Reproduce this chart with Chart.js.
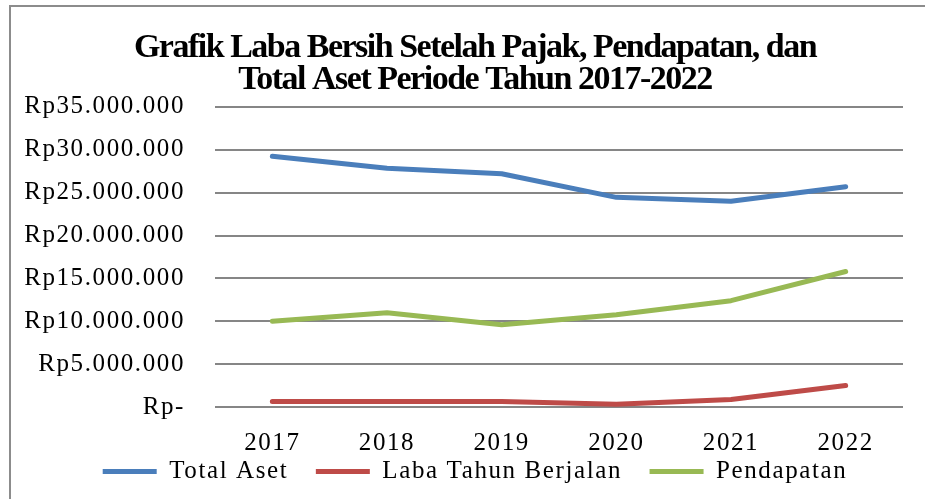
<!DOCTYPE html>
<html>
<head>
<meta charset="utf-8">
<script src="https://cdn.jsdelivr.net/npm/chart.js@4.4.0/dist/chart.umd.min.js"></script>
<style>
    html, body { margin: 0; padding: 0; background: #fff; overflow: hidden; }
    .frame { position: absolute; left: 9px; top: 5px; width: 1000px; height: 600px; border: 2px solid #8c8c8c; }
    #chart { position: absolute; left: 0; top: 0; }
</style>
</head>
<body>
<div class="frame"></div>
<canvas id="chart" width="925" height="499"></canvas>
<script>
const years = ['2017', '2018', '2019', '2020', '2021', '2022'];
const totalAset = [29250000, 27850000, 27200000, 24450000, 24000000, 25700000];
const labaTahunBerjalan = [630000, 630000, 630000, 330000, 870000, 2500000];
const pendapatan = [10000000, 11000000, 9600000, 10750000, 12400000, 15800000];
const titleLines = ['Grafik Laba Bersih Setelah Pajak, Pendapatan, dan', 'Total Aset Periode Tahun 2017-2022'];

// Rp35.000.000 style, zero shows as "Rp-"
const rupiah = (v) => v === 0 ? 'Rp-' : 'Rp' + String(v).replace(/\B(?=(\d{3})+(?!\d))/g, '.');

// Excel's Cambria text is spaced out, the bold title is condensed
const excelStyle = {
    id: 'excelStyle',
    afterInit(chart) {
        const ctx = chart.ctx;
        const fill = ctx.fillText.bind(ctx);
        const measure = ctx.measureText.bind(ctx);
        const setSpacing = () => { ctx.letterSpacing = ctx.font.startsWith('bold') ? '-1.5px' : '1.6px'; };
        ctx.fillText = (...args) => { setSpacing(); fill(...args); };
        ctx.measureText = (text) => { setSpacing(); return measure(text); };
    },
    // y labels hang out past the left padding, so don't clip them
    afterLayout(chart) {
        chart.scales.y.left = 0;
    }
};

const serif = "'Liberation Serif', 'DejaVu Serif', serif";
const line = (label, data, color) => ({
    label: label,
    data: data,
    borderColor: color,
    backgroundColor: color,
    borderWidth: 5,
    borderCapStyle: 'round',
    borderJoinStyle: 'round',
    pointRadius: 0,
    pointStyle: 'line',
    tension: 0,
    fill: false
});

new Chart(document.getElementById('chart'), {
    type: 'line',
    data: {
        labels: years,
        datasets: [
            line('Total Aset', totalAset, '#4a7ebb'),
            line('Laba Tahun Berjalan', labaTahunBerjalan, '#be4b48'),
            line('Pendapatan', pendapatan, '#98b954')
        ]
    },
    options: {
        responsive: false,
        animation: false,
        layout: { padding: { left: 47, right: 22, top: 0, bottom: 5 } },
        scales: {
            x: {
                offset: true,
                grid: { display: false, drawTicks: false },
                border: { display: false },
                ticks: { color: '#000', padding: 24, font: { family: serif, size: 25, lineHeight: 1 } },
                afterFit: (scale) => { scale.height = 48; }
            },
            y: {
                min: 0,
                max: 35000000,
                ticks: {
                    stepSize: 5000000,
                    color: '#000',
                    padding: 30,
                    font: { family: serif, size: 25, lineHeight: 1 },
                    callback: rupiah
                },
                grid: { color: '#868686', lineWidth: 2, drawTicks: false },
                border: { display: false },
                afterFit: (scale) => { scale.width = 168; }
            }
        },
        plugins: {
            title: {
                display: true,
                text: titleLines,
                color: '#000',
                font: { family: serif, size: 34, weight: 'bold', lineHeight: 0.94 },
                padding: { top: 32, bottom: 11 }
            },
            legend: {
                position: 'bottom',
                labels: {
                    color: '#000',
                    font: { family: serif, size: 25, lineHeight: 1 },
                    usePointStyle: true,
                    pointStyleWidth: 54,
                    boxHeight: 10,
                    padding: 4,
                    // wider gaps between the three entries, like the Excel legend
                    generateLabels: (chart) => Chart.defaults.plugins.legend.labels.generateLabels(chart)
                        .map((item, i) => ({ ...item, text: i < 2 ? item.text + '\u00a0\u00a0\u00a0' : item.text }))
                }
            },
            tooltip: { enabled: false }
        }
    },
    plugins: [excelStyle]
});
</script>
</body>
</html>
